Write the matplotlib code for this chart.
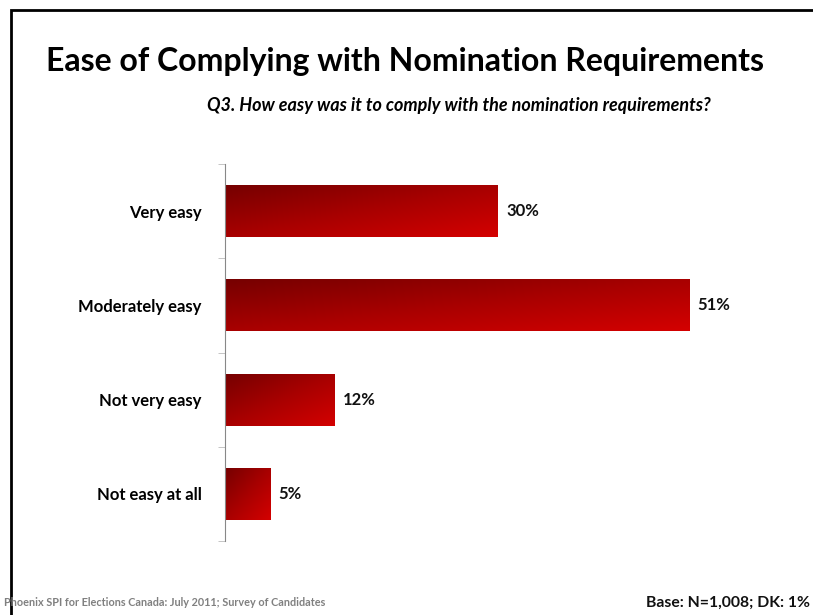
import matplotlib.pyplot as plt
import numpy as np
from matplotlib.colors import LinearSegmentedColormap
from matplotlib.lines import Line2D

plt.rcParams['font.family'] = ['Lato', 'DejaVu Sans']

categories = ["Very easy", "Moderately easy", "Not very easy", "Not easy at all"]
values = [30, 51, 12, 5]

fig = plt.figure(figsize=(8.13, 6.15), dpi=100)
W, H = 813, 615

# axes placed in pixel terms: left spine ~225, categories 164..541
ax = fig.add_axes([225 / W, 1 - 541 / H, 546 / W, 377 / H])
y = np.arange(len(categories))
bars = ax.barh(y, values, height=0.55, color="none", edgecolor="none")

# diagonal gradient, dark top-left to bright bottom-right
cmap = LinearSegmentedColormap.from_list("red", ["#760000", "#a80000", "#d40000"])
gx, gy = np.meshgrid(np.linspace(0, 1, 200), np.linspace(0, 1, 60))
grad = (gx + gy) / 2
for b in bars:
    x0, y0 = b.get_x(), b.get_y()
    w, h = b.get_width(), b.get_height()
    im = ax.imshow(grad, cmap=cmap, extent=[x0, x0 + w, y0 + h, y0],
                   aspect="auto", interpolation="bicubic", zorder=2)
    im.set_clip_path(b)
ax.set_xlim(0, 60)
ax.set_ylim(len(categories) - 0.5, -0.5)

for i, v in enumerate(values):
    ax.text(v + 0.9, i, f"{v}%", va="center", ha="left",
            fontsize=12, fontweight="bold", color="#111111")

for s in ["top", "right", "bottom"]:
    ax.spines[s].set_visible(False)
ax.spines["left"].set_color("#888888")
ax.set_xticks([])
ax.set_yticks(np.arange(-0.5, len(categories), 1), minor=True)
ax.set_yticks(y)
ax.set_yticklabels(categories, fontsize=12, fontweight="bold")
ax.tick_params(axis="y", which="major", length=0, pad=17)
ax.tick_params(axis="y", which="minor", length=5, color="#bbbbbb")

fig.text(405 / W, 1 - 62 / H, "Ease of Complying with Nomination Requirements",
         ha="center", va="center", fontsize=23, fontweight="bold")
fig.text(711 / W, 1 - 106 / H,
         "Q3. How easy was it to comply with the nomination requirements?",
         ha="right", va="center", fontsize=13, fontweight="bold", style="italic")

fig.text(4 / W, 1 - 603 / H,
         "Phoenix SPI for Elections Canada: July 2011; Survey of Candidates",
         ha="left", va="center", fontsize=7.8, fontweight="bold", color="#808080")
fig.text(810 / W, 1 - 603 / H, "Base: N=1,008; DK: 1%",
         ha="right", va="center", fontsize=11.3, fontweight="bold", color="#111111")

# slide frame on the top and left
fig.add_artist(Line2D([10.5 / W, 10.5 / W, 1.01], [0, 1 - 10 / H, 1 - 10 / H],
                      transform=fig.transFigure, color="black", lw=2,
                      solid_capstyle="butt", solid_joinstyle="miter"))

fig.savefig("out.png", dpi=100)
